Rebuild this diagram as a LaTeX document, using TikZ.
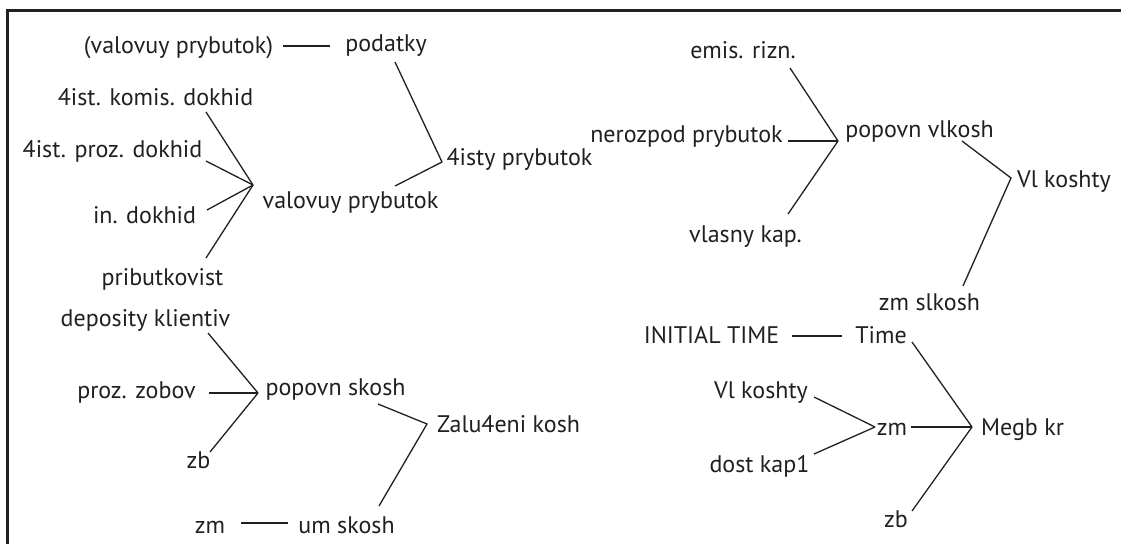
\documentclass[tikz,border=0pt]{standalone}
\usepackage{fontspec}
\setmainfont{PT Sans}
\definecolor{ink}{HTML}{231F20}
\begin{document}
\begin{tikzpicture}[x=1pt,y=-1pt]
    \tikzset{lbl/.style={anchor=base,inner sep=0pt,text=ink,font=\fontsize{24}{28}\selectfont},
        wire/.style={draw=ink,line width=1.3pt}}
    \useasboundingbox (0,0) rectangle (1121,544);
    \draw[ink,line width=3pt] (1121,10) -- (7,10) -- (7,544);
    \coordinate (h1) at (442,162);
    \coordinate (h2) at (253,185);
    \coordinate (h3) at (838,141);
    \coordinate (h4) at (1011,178);
    \coordinate (h5) at (972,427);
    \coordinate (h6) at (875,427);
    \coordinate (h7) at (258,393);
    \coordinate (h8) at (427,424);
    \node[lbl] (vpbr) at (178.5,53) {(valovuy prybutok)};
    \node[lbl] (pod) at (386,51) {podatky};
    \node[lbl] (komis) at (155.5,105) {4ist. komis. dokhid};
    \node[lbl] (prozd) at (112.5,157) {4ist. proz. dokhid};
    \node[lbl] (indok) at (144.5,223) {in. dokhid};
    \node[lbl] (pribut) at (162.5,285) {pributkovist};
    \node[lbl] (valpr) at (350.5,208) {valovuy prybutok};
    \node[lbl] (chpr) at (519.5,165) {4isty prybutok};
    \node[lbl] (emis) at (743,58) {emis. rizn.};
    \node[lbl] (neroz) at (686.5,142) {nerozpod prybutok};
    \node[lbl] (vlkap) at (745.5,242) {vlasny kap.};
    \node[lbl] (popvl) at (919.5,137) {popovn vlkosh};
    \node[lbl] (vlk) at (1064,187) {Vl koshty};
    \node[lbl] (zmsl) at (929.5,310) {zm slkosh};
    \node[lbl] (init) at (711.5,343) {INITIAL TIME};
    \node[lbl] (time) at (881,343) {Time};
    \node[lbl] (vlk2) at (761,398) {Vl koshty};
    \node[lbl] (dost) at (759.5,472) {dost kap1};
    \node[lbl] (zmr) at (892,435) {zm};
    \node[lbl] (megb) at (1022.5,435) {Megb kr};
    \node[lbl] (zbr) at (896,527) {zb};
    \node[lbl] (depos) at (145.5,326) {deposity klientiv};
    \node[lbl] (prozz) at (136.5,398) {proz. zobov};
    \node[lbl] (zbl) at (198.5,468) {zb};
    \node[lbl] (popsk) at (335.5,395) {popovn skosh};
    \node[lbl] (zml) at (210,533) {zm};
    \node[lbl] (umsk) at (346.5,533) {um skosh};
    \node[lbl] (zal) at (508.5,432) {Zalu4eni kosh};
    \draw[wire] ([shift={(104.5,-7)}]vpbr.base) -- ([shift={(-56,-5)}]pod.base);
    \draw[wire] ([shift={(9,11)}]pod.base) -- (h1) -- ([shift={(44.5,-22)}]valpr.base);
    \draw[wire] ([shift={(50.5,7)}]komis.base) -- (h2);
    \draw[wire] ([shift={(93.5,4)}]prozd.base) -- (h2);
    \draw[wire] ([shift={(62.5,-13)}]indok.base) -- (h2);
    \draw[wire] ([shift={(43.5,-27)}]pribut.base) -- (h2);
    \draw[wire] ([shift={(47,10)}]emis.base) -- (h3);
    \draw[wire] ([shift={(101.5,-1)}]neroz.base) -- (h3);
    \draw[wire] ([shift={(42.5,-28)}]vlkap.base) -- (h3);
    \draw[wire] ([shift={(42.5,4)}]popvl.base) -- (h4) -- ([shift={(33.5,-24)}]zmsl.base);
    \draw[wire] ([shift={(80.5,-7)}]init.base) -- ([shift={(-39,-7)}]time.base);
    \draw[wire] ([shift={(31,-1)}]time.base) -- (h5);
    \draw[wire] ([shift={(19,-8)}]zmr.base) -- (h5);
    \draw[wire] ([shift={(16,-16)}]zbr.base) -- (h5);
    \draw[wire] ([shift={(53,-1)}]vlk2.base) -- (h6);
    \draw[wire] ([shift={(54.5,-18)}]dost.base) -- (h6);
    \draw[wire] ([shift={(62.5,7)}]depos.base) -- (h7);
    \draw[wire] ([shift={(72.5,-5)}]prozz.base) -- (h7);
    \draw[wire] ([shift={(11.5,-16)}]zbl.base) -- (h7);
    \draw[wire] ([shift={(42.5,9)}]popsk.base) -- (h8) -- ([shift={(32.5,-27)}]umsk.base);
    \draw[wire] ([shift={(31,-10)}]zml.base) -- ([shift={(-58.5,-10)}]umsk.base);
\end{tikzpicture}
\end{document}
